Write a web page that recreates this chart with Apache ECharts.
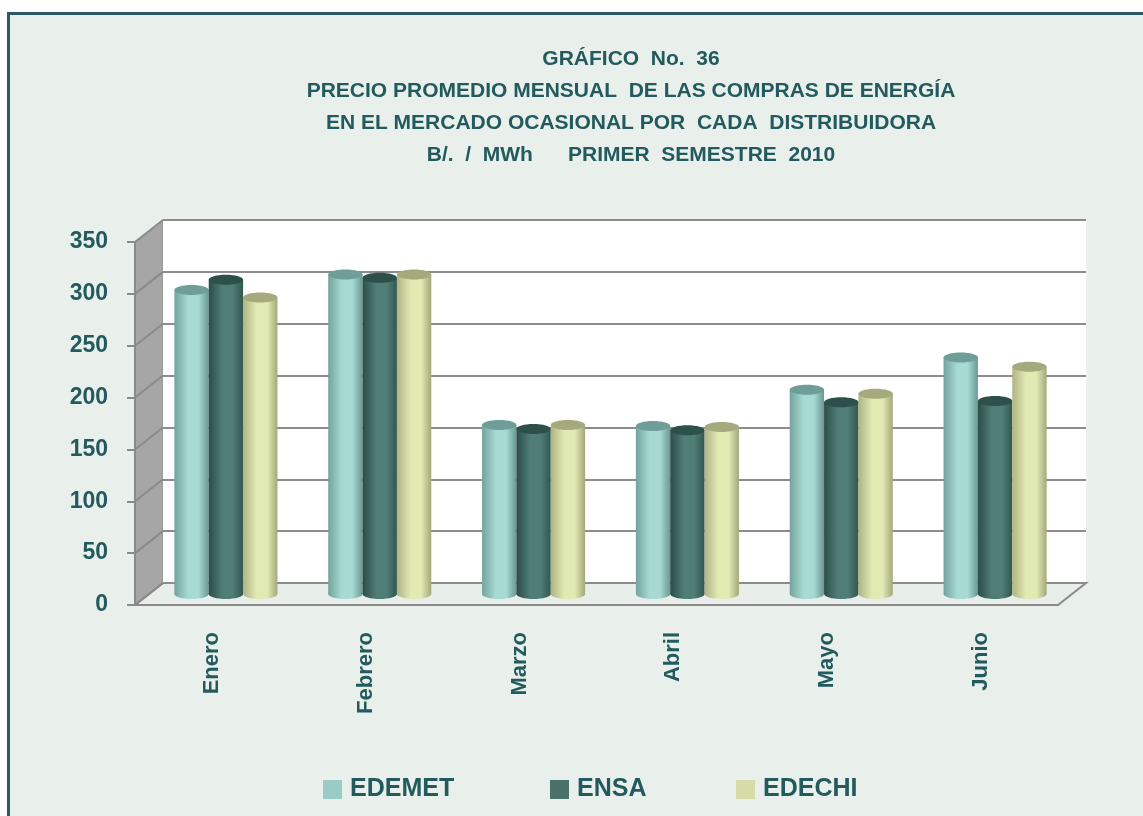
<!DOCTYPE html>
<html>
<head>
<meta charset="utf-8">
<script src="https://cdn.jsdelivr.net/npm/echarts@6/dist/echarts.min.js"></script>
<style>
  body { margin: 0; background: #fff; }
  .frame {
    position: absolute; left: 7px; top: 12px; width: 1140px; height: 810px;
    border-left: 3px solid #2b5a64; border-top: 3px solid #2b5a64;
    background: #e9f0ec;
  }
  .chart-container { position: absolute; left: 0; top: 0; width: 1143px; height: 816px; }
</style>
</head>
<body>
<div class="frame"></div>
<div id="chart" class="chart-container"></div>
<script>
const months = ['Enero', 'Febrero', 'Marzo', 'Abril', 'Mayo', 'Junio']
const edemet = [293, 308, 163, 162, 197, 228]
const ensa = [303, 305, 159, 158, 185, 186]
const edechi = [286, 308, 163, 161, 193, 219]
const yTicks = [0, 50, 100, 150, 200, 250, 300, 350]

const titleLines = [
  'GRÁFICO  No.  36',
  'PRECIO PROMEDIO MENSUAL  DE LAS COMPRAS DE ENERGÍA',
  'EN EL MERCADO OCASIONAL POR  CADA  DISTRIBUIDORA',
  'B/.  /  MWh      PRIMER  SEMESTRE  2010'
]

// 3d box layout: front axis plane, back wall, bars in the middle
const FX = 135, FW = 923, FY0 = 605, H = 363, DX = 28, DY = -22
const YMAX = 350
const ink = '#225a5e'
const font = 'Liberation Sans, Arial, sans-serif'

// cylinder shading per series: [left edge, highlight, right edge, top]
const shades = [
  ['#72a39e', '#a8dad4', '#6a9893', '#6f9d98'],
  ['#2c4d48', '#507d76', '#33574f', '#2e504a'],
  ['#aeb384', '#e2eab3', '#a3a87b', '#a5aa7d']
]
const legendColors = ['#9bcbc5', '#4a7169', '#d5dca8']

const chart = echarts.init(document.getElementById('chart'))

const renderCylinder = (params, api) => {
  const s = params.seriesIndex
  const top = api.coord([api.value(0), api.value(1)])
  const base = api.coord([api.value(0), 0])
  const band = api.size([1, 0])[0]
  const cluster = band * 0.67
  const w = cluster / 3
  const x0 = top[0] - cluster / 2 + s * w
  const ry = 5
  const c = shades[s]
  const grad = new echarts.graphic.LinearGradient(0, 0, 1, 0, [
    { offset: 0, color: c[0] },
    { offset: 0.4, color: c[1] },
    { offset: 0.7, color: c[1] },
    { offset: 1, color: c[2] }
  ])
  return {
    type: 'group',
    children: [
      { type: 'ellipse', shape: { cx: x0 + w / 2, cy: base[1], rx: w / 2, ry: ry }, style: { fill: grad } },
      { type: 'rect', shape: { x: x0, y: top[1], width: w, height: base[1] - top[1] }, style: { fill: grad } },
      { type: 'ellipse', shape: { cx: x0 + w / 2, cy: top[1], rx: w / 2, ry: ry }, style: { fill: c[3] } }
    ]
  }
}

// left wall and floor pieces
const wallLines = yTicks.map(v => {
  const k = v / YMAX * H
  return {
    type: 'line', z: -1,
    shape: { x1: FX, y1: FY0 - k, x2: FX + DX, y2: FY0 + DY - k },
    style: { stroke: '#8a8a8a', lineWidth: 2 }
  }
})

const option = {
  animation: false,
  title: {
    text: titleLines.join('\n'),
    left: 626,
    top: 38,
    textAlign: 'center',
    textStyle: { fontFamily: font, fontSize: 21, fontWeight: 'bold', color: ink, lineHeight: 32 }
  },
  legend: ['EDEMET', 'ENSA', 'EDECHI'].map((name, i) => ({
    data: [name],
    left: [318, 545, 731][i],
    top: 772,
    icon: 'rect',
    itemWidth: 19,
    itemHeight: 19,
    textStyle: { fontFamily: font, fontSize: 25, fontWeight: 'bold', color: ink, padding: [0, 0, 0, 3] }
  })),
  graphic: [
    {
      type: 'polygon', z: -2,
      shape: { points: [[FX, FY0 - H], [FX + DX, FY0 + DY - H], [FX + DX, FY0 + DY], [FX, FY0]] },
      style: { fill: '#a6a6a6', stroke: '#8a8a8a', lineWidth: 1 }
    },
    {
      type: 'polygon', z: -2,
      shape: { points: [[FX, FY0], [FX + DX, FY0 + DY], [FX + FW + DX, FY0 + DY], [FX + FW, FY0]] },
      style: { fill: '#e8efeb', stroke: '#8a8a8a', lineWidth: 2 }
    },
    ...wallLines
  ],
  grid: [
    // back wall
    { left: FX + DX, top: FY0 + DY - H, width: FW, height: H, show: true, backgroundColor: '#ffffff', borderWidth: 0, outerBoundsMode: 'none' },
    // front axis plane
    { left: FX, top: FY0 - H, width: FW, height: H, outerBoundsMode: 'none' },
    // bar plane
    { left: FX + DX / 2, top: FY0 + DY / 2 - H, width: FW, height: H, outerBoundsMode: 'none' }
  ],
  xAxis: [
    { type: 'category', gridIndex: 0, data: months, show: false },
    {
      type: 'category', gridIndex: 1, data: months,
      axisLine: { lineStyle: { color: '#8a8a8a', width: 2 } },
      axisTick: { length: 8, lineStyle: { color: '#8a8a8a', width: 2 } },
      axisLabel: { rotate: 90, margin: 27, fontFamily: font, fontSize: 22, fontWeight: 'bold', color: ink }
    },
    { type: 'category', gridIndex: 2, data: months, show: false }
  ],
  yAxis: [
    {
      type: 'value', gridIndex: 0, min: 0, max: YMAX, interval: 50,
      axisLine: { show: false }, axisTick: { show: false }, axisLabel: { show: false },
      splitLine: { lineStyle: { color: '#8c8c8c', width: 2 } }
    },
    {
      type: 'value', gridIndex: 1, min: 0, max: YMAX, interval: 50,
      axisLine: { show: true, lineStyle: { color: '#8a8a8a', width: 2 } },
      axisTick: { show: true, length: 8, lineStyle: { color: '#8a8a8a', width: 2 } },
      splitLine: { show: false },
      axisLabel: { margin: 27, fontFamily: font, fontSize: 23, fontWeight: 'bold', color: ink }
    },
    { type: 'value', gridIndex: 2, min: 0, max: YMAX, show: false, splitLine: { show: false } }
  ],
  series: [
    ['EDEMET', edemet],
    ['ENSA', ensa],
    ['EDECHI', edechi]
  ].map(([name, vals], i) => ({
    name,
    type: 'custom',
    xAxisIndex: 2,
    yAxisIndex: 2,
    itemStyle: { color: legendColors[i] },
    renderItem: renderCylinder,
    encode: { x: 0, y: 1 },
    data: vals.map((v, j) => [j, v])
  }))
}

chart.setOption(option)
</script>
</body>
</html>
